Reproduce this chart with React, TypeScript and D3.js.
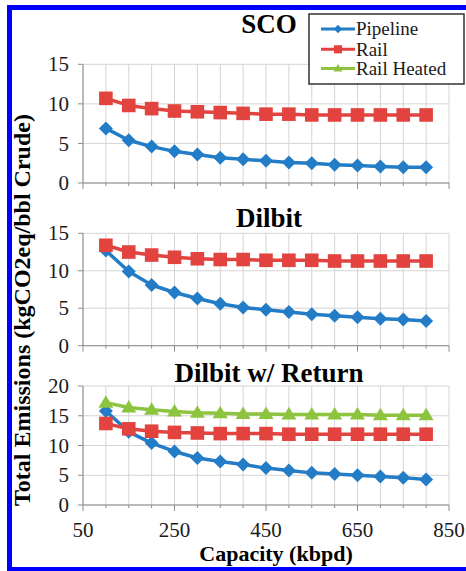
import React from "react";
import * as d3 from "d3";

const capacity = [100, 150, 200, 250, 300, 350, 400, 450, 500, 550, 600, 650, 700, 750, 800];

const scoPipeline = [6.9, 5.4, 4.6, 4.0, 3.6, 3.2, 3.0, 2.8, 2.6, 2.5, 2.3, 2.2, 2.1, 2.0, 2.0];
const scoRail = [10.7, 9.8, 9.4, 9.1, 9.0, 8.9, 8.8, 8.7, 8.7, 8.6, 8.6, 8.6, 8.6, 8.6, 8.6];

const dilbitPipeline = [12.7, 9.9, 8.1, 7.1, 6.3, 5.6, 5.1, 4.8, 4.5, 4.2, 4.0, 3.8, 3.6, 3.5, 3.3];
const dilbitRail = [13.4, 12.5, 12.1, 11.8, 11.6, 11.5, 11.5, 11.4, 11.4, 11.4, 11.3, 11.3, 11.3, 11.3, 11.3];

const returnPipeline = [15.8, 12.3, 10.4, 9.0, 7.9, 7.3, 6.8, 6.2, 5.8, 5.4, 5.2, 5.0, 4.8, 4.6, 4.3];
const returnRail = [13.7, 12.8, 12.4, 12.2, 12.1, 12.0, 12.0, 12.0, 11.9, 11.9, 11.9, 11.9, 11.9, 11.9, 11.9];
const returnRailHeated = [17.2, 16.4, 16.0, 15.7, 15.5, 15.4, 15.3, 15.3, 15.2, 15.2, 15.2, 15.2, 15.1, 15.1, 15.1];

const xTickLabels = [50, 250, 450, 650, 850];
const xGrid = d3.range(50, 851, 50);

const seriesNames = ["Pipeline", "Rail", "Rail Heated"];
const colors: Record<string, string> = {
  Pipeline: "#237dc6",
  Rail: "#e2433f",
  "Rail Heated": "#8cc43f",
};

type Panel = {
  title: string;
  yMax: number;
  yTicks: number[];
  top: number;
  bottom: number;
  titleY: number;
  series: { name: string; values: number[] }[];
  showXLabels: boolean;
};

const panels: Panel[] = [
  {
    title: "SCO",
    yMax: 15,
    yTicks: [0, 5, 10, 15],
    top: 64.3,
    bottom: 183,
    titleY: 33,
    series: [
      { name: "Pipeline", values: scoPipeline },
      { name: "Rail", values: scoRail },
    ],
    showXLabels: false,
  },
  {
    title: "Dilbit",
    yMax: 15,
    yTicks: [0, 5, 10, 15],
    top: 233.3,
    bottom: 345.7,
    titleY: 227,
    series: [
      { name: "Pipeline", values: dilbitPipeline },
      { name: "Rail", values: dilbitRail },
    ],
    showXLabels: false,
  },
  {
    title: "Dilbit w/ Return",
    yMax: 20,
    yTicks: [0, 5, 10, 15, 20],
    top: 386,
    bottom: 505,
    titleY: 382,
    series: [
      { name: "Pipeline", values: returnPipeline },
      { name: "Rail", values: returnRail },
      { name: "Rail Heated", values: returnRailHeated },
    ],
    showXLabels: true,
  },
];

const W = 466;
const H = 571;
const plotLeft = 83;
const plotRight = 449;
const SERIF = "'Liberation Serif', 'Times New Roman', 'DejaVu Serif', serif";

const x = d3.scaleLinear().domain([50, 850]).range([plotLeft, plotRight]);

// Excel-style markers: equal-sided diamond, square, triangle
function markerPath(name: string): string {
  const p = d3.path();
  if (name === "Pipeline") {
    const r = 7;
    p.moveTo(0, -r);
    p.lineTo(r, 0);
    p.lineTo(0, r);
    p.lineTo(-r, 0);
  } else if (name === "Rail") {
    const h = 6.8;
    p.rect(-h, -h, 2 * h, 2 * h);
    return p.toString();
  } else {
    p.moveTo(0, -7.5);
    p.lineTo(7.5, 5);
    p.lineTo(-7.5, 5);
  }
  p.closePath();
  return p.toString();
}

function PanelChart({ p }: { p: Panel }) {
  const y = d3.scaleLinear().domain([0, p.yMax]).range([p.bottom, p.top]);
  const line = d3
    .line<number>()
    .x((_, i) => x(capacity[i]))
    .y((v) => y(v));
  return (
    <g>
      {/* grid */}
      {xGrid.map((g) => (
        <line key={"vx" + g} x1={x(g)} x2={x(g)} y1={p.top} y2={p.bottom} stroke="#d4d4d4" strokeWidth={1} />
      ))}
      {p.yTicks.map((t) => (
        <line key={"hy" + t} x1={plotLeft} x2={plotRight} y1={y(t)} y2={y(t)} stroke="#d4d4d4" strokeWidth={1} />
      ))}
      {/* axes */}
      <line x1={plotLeft} x2={plotLeft} y1={p.top} y2={p.bottom} stroke="#8c8c8c" strokeWidth={1} />
      <line x1={plotLeft} x2={plotRight} y1={p.bottom} y2={p.bottom} stroke="#8c8c8c" strokeWidth={1} />
      {xGrid.map((g) => (
        <line
          key={"xm" + g}
          x1={x(g)}
          x2={x(g)}
          y1={p.bottom}
          y2={p.bottom + (xTickLabels.includes(g) ? 6 : 3)}
          stroke="#8c8c8c"
          strokeWidth={1}
        />
      ))}
      {p.yTicks.map((t) => (
        <g key={"yt" + t}>
          <line x1={plotLeft - 5} x2={plotLeft} y1={y(t)} y2={y(t)} stroke="#8c8c8c" strokeWidth={1} />
          <text x={69} y={y(t)} dy="0.34em" textAnchor="end" fontSize={21} fontFamily={SERIF} fill="#1a1a1a">
            {t}
          </text>
        </g>
      ))}
      {p.showXLabels &&
        xTickLabels.map((t) => (
          <text key={"xt" + t} x={x(t)} y={537} textAnchor="middle" fontSize={21} fontFamily={SERIF} fill="#1a1a1a">
            {t}
          </text>
        ))}
      {/* title */}
      <text x={269} y={p.titleY} textAnchor="middle" fontSize={27} fontWeight="bold" fontFamily={SERIF} fill="#000">
        {p.title}
      </text>
      {/* series */}
      {p.series.map((s) => (
        <g key={s.name}>
          <path d={line(s.values)!} fill="none" stroke={colors[s.name]} strokeWidth={3.5} strokeLinejoin="round" />
          {s.values.map((v, i) => (
            <path
              key={i}
              d={markerPath(s.name)}
              transform={`translate(${x(capacity[i])},${y(v)})`}
              fill={colors[s.name]}
            />
          ))}
        </g>
      ))}
    </g>
  );
}

export default function App() {
  const legendX = 309;
  const legendY = 14;
  const legendRows = [29, 49.3, 68.5];
  return (
    <svg width={W} height={H} style={{ position: "absolute", left: 0, top: 0, background: "#fff" }}>
      <rect x={0} y={0} width={W} height={H} fill="#fff" />
      {panels.map((p) => (
        <PanelChart key={p.title} p={p} />
      ))}

      {/* legend */}
      <rect x={legendX} y={legendY} width={155} height={70} fill="#fff" stroke="#333" strokeWidth={1.5} />
      {seriesNames.map((n, i) => (
        <g key={n}>
          <line x1={321} x2={355} y1={legendRows[i]} y2={legendRows[i]} stroke={colors[n]} strokeWidth={3} />
          <path d={markerPath(n)} transform={`translate(338,${legendRows[i]}) scale(0.6)`} fill={colors[n]} />
          <text x={356} y={legendRows[i]} dy="0.34em" fontSize={19} fontFamily={SERIF} fill="#1a1a1a">
            {n}
          </text>
        </g>
      ))}

      {/* axis titles */}
      <text
        transform="translate(22,310) rotate(-90)"
        textAnchor="middle"
        dy="0.35em"
        fontSize={24}
        fontWeight="bold"
        fontFamily={SERIF}
        fill="#000"
      >
        Total Emissions (kgCO2eq/bbl Crude)
      </text>
      <text x={276} y={561} textAnchor="middle" fontSize={22} fontWeight="bold" fontFamily={SERIF} fill="#000">
        Capacity (kbpd)
      </text>

      {/* frame */}
      <rect x={7} y={5} width={W} height={5} fill="#0000ff" />
      <rect x={7} y={5} width={5} height={H} fill="#0000ff" />
      <rect x={7} y={567} width={W} height={6} fill="#0000ff" />
    </svg>
  );
}
